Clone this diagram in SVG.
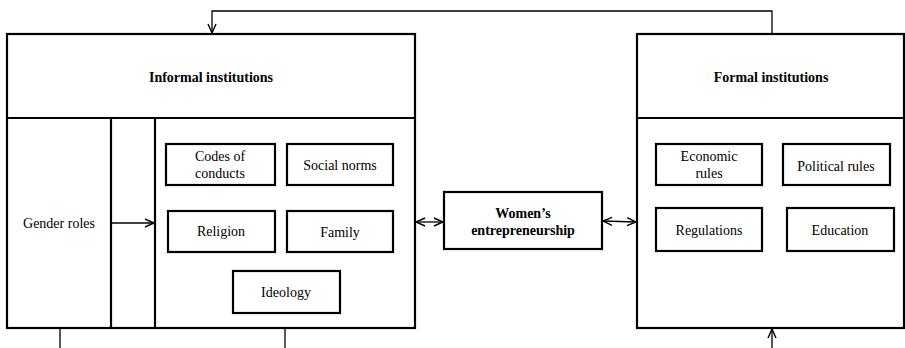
<svg xmlns="http://www.w3.org/2000/svg" width="905" height="348" viewBox="0 0 905 348" font-family="'Liberation Serif', 'Times New Roman', Times, serif">
<defs>
<marker id="arr" viewBox="0 0 10 10" refX="10" refY="5" markerWidth="10" markerHeight="10" markerUnits="userSpaceOnUse" orient="auto-start-reverse">
<path d="M1,1 L10,5 L1,9" fill="none" stroke="#000" stroke-width="1.4"/>
</marker>
</defs>
<style>
.box{fill:#fff;stroke:#000;stroke-width:2.2}
.ln{fill:none;stroke:#000;stroke-width:2.2}
.con{fill:none;stroke:#000;stroke-width:1.3}
text{font-family:'Liberation Serif', 'Times New Roman', Times, serif;font-size:14px;fill:#000;text-anchor:middle}
.b{font-weight:bold}
</style>
<rect width="905" height="348" fill="#fff"/>
<g id="informal">
<rect class="box" x="7" y="34" width="408" height="294"/>
<line class="ln" x1="7" y1="118" x2="415" y2="118"/>
<line class="ln" x1="111" y1="118" x2="111" y2="328"/>
<line class="ln" x1="155" y1="118" x2="155" y2="328"/>
<text class="b" x="211" y="82">Informal institutions</text>
</g>
<g id="gender-roles"><text x="59" y="228">Gender roles</text></g>
<g id="codes"><rect class="box" x="166" y="144" width="109" height="41"/><text x="220" y="161">Codes of</text><text x="220" y="178">conducts</text></g>
<g id="social"><rect class="box" x="287" y="144" width="106" height="41"/><text x="340" y="170">Social norms</text></g>
<g id="religion"><rect class="box" x="168" y="211" width="107" height="41"/><text x="221" y="236">Religion</text></g>
<g id="family"><rect class="box" x="287" y="211" width="106" height="41"/><text x="340" y="237">Family</text></g>
<g id="ideology"><rect class="box" x="233" y="271" width="107" height="42"/><text x="286" y="297">Ideology</text></g>
<g id="women"><rect class="box" x="444" y="192" width="158" height="57"/><text class="b" x="523" y="218">Women’s</text><text class="b" x="523" y="235">entrepreneurship</text></g>
<g id="formal">
<rect class="box" x="637" y="34" width="267" height="294"/>
<line class="ln" x1="637" y1="118" x2="904" y2="118"/>
<text class="b" x="771" y="82">Formal institutions</text>
</g>
<g id="economic"><rect class="box" x="656" y="144" width="106" height="41"/><text x="709" y="161">Economic</text><text x="709" y="178">rules</text></g>
<g id="political"><rect class="box" x="783" y="144" width="107" height="41"/><text x="836" y="171">Political rules</text></g>
<g id="regulations"><rect class="box" x="656" y="208" width="106" height="43"/><text x="709" y="235">Regulations</text></g>
<g id="education"><rect class="box" x="787" y="208" width="107" height="43"/><text x="840" y="235">Education</text></g>
<g id="connectors">
<polyline class="con" points="772,34 772,11 212,11 212,33" marker-end="url(#arr)"/>
<line class="con" x1="111" y1="223" x2="154" y2="223" marker-end="url(#arr)"/>
<line class="con" x1="416" y1="222" x2="443" y2="222" marker-start="url(#arr)" marker-end="url(#arr)"/>
<line class="con" x1="603" y1="221" x2="636" y2="222" marker-start="url(#arr)" marker-end="url(#arr)"/>
<line class="con" x1="60" y1="329" x2="60" y2="348"/>
<line class="con" x1="285" y1="329" x2="285" y2="348"/>
<line class="con" x1="772" y1="348" x2="772" y2="329" marker-end="url(#arr)"/>
</g>
</svg>
